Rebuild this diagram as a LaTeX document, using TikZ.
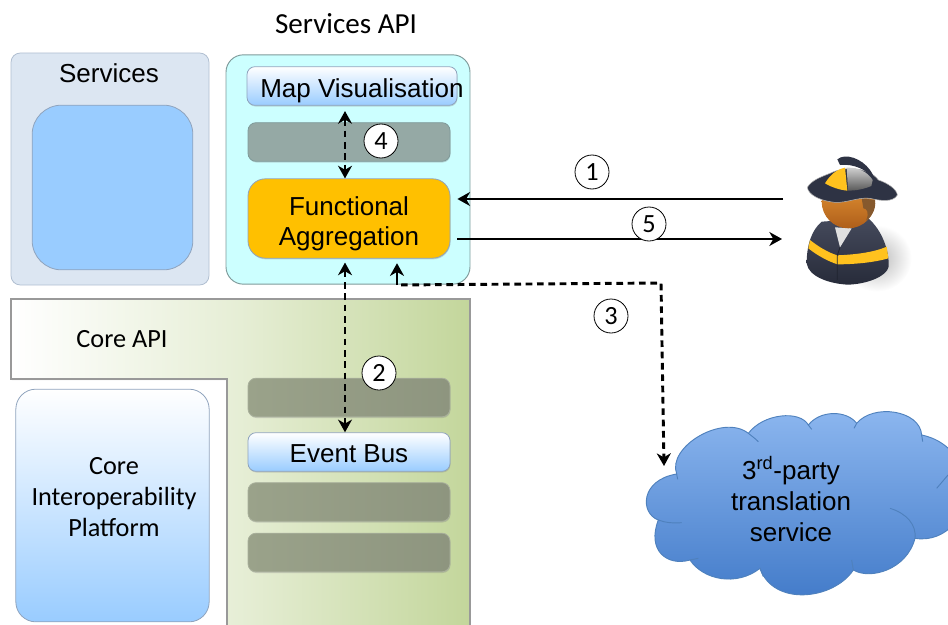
\documentclass[tikz,border=0pt]{standalone}
\usepackage{fontspec}
\setmainfont{Liberation Sans}
\newfontfamily\calibrilike{Carlito}
\usetikzlibrary{arrows.meta,shadows}
\definecolor{panelblue}{HTML}{DCE6F2}
\definecolor{panelcyan}{HTML}{CCFFFF}
\definecolor{skyblue}{HTML}{99CCFF}
\definecolor{edgeblue}{HTML}{8FA3BD}
\definecolor{edgegrey}{HTML}{7F9A9A}
\definecolor{amber}{HTML}{FFC000}
\definecolor{coregreen}{HTML}{C3D69B}
\definecolor{slategrey}{HTML}{95A9A5}
\definecolor{olivegrey}{HTML}{9AA28A}
\definecolor{cloudtop}{HTML}{8EB8F0}
\definecolor{cloudbottom}{HTML}{4079C8}
\definecolor{cloudedge}{HTML}{4F81BD}
\definecolor{coat}{HTML}{2E3344}
\definecolor{coatlight}{HTML}{454A5C}
\definecolor{band}{HTML}{FFC21E}
\definecolor{skintop}{HTML}{EC9C38}
\definecolor{skinbottom}{HTML}{AE5E1A}
\tikzset{
  softshadow/.style={drop shadow={shadow xshift=.4pt,shadow yshift=-.9pt,opacity=.3}},
  big/.style={font=\fontsize{19.5}{23.3}\selectfont,align=center},
  soft/.style={big,font=\calibrilike\fontsize{19.7}{23.3}\selectfont},
  lane/.style={rounded corners=6pt,minimum width=151.5pt,minimum height=29pt,inner sep=0pt,draw=edgegrey,line width=.6pt,softshadow},
  slatelane/.style={lane,fill=slategrey},
  olivelane/.style={lane,draw=olivegrey!85!white,left color=olivegrey,right color=olivegrey!92!black},
  glasslane/.style={lane,big,draw=edgeblue,top color=white,bottom color=skyblue},
  numbered/.style={circle,draw=black,fill=white,line width=.6pt,minimum size=25.5pt,inner sep=0pt,soft},
  flow/.style={-{Stealth[inset=3pt,length=9.5pt,width=10.5pt]},line width=1.5pt,black},
  dashedflow/.style={flow,line width=1.3pt,dash pattern=on 5pt off 3.5pt},
  twoway/.style={dashedflow,{Stealth[inset=3pt,length=9.5pt,width=10.5pt]}-{Stealth[inset=3pt,length=9.5pt,width=10.5pt]}},
}
\begin{document}
\begin{tikzpicture}[x=.75pt,y=-.75pt]
  \useasboundingbox (0,0) rectangle (948,624);
  \clip (0,0) rectangle (948,624);

  % services side
  \node[draw=edgeblue!70!white,fill=panelblue,rounded corners=7pt,line width=.6pt,minimum width=148.5pt,minimum height=174pt,inner sep=0pt] (servicespanel) at (110,169) {};
  \node[big] (serviceslabel) at (109,73) {Services};
  \node[draw=edgeblue,fill=skyblue,rounded corners=22pt,line width=.6pt,minimum width=120.5pt,minimum height=123.5pt,inner sep=0pt] (servicesbox) at (112.5,187.5) {};

  % services api
  \node[soft,font=\calibrilike\fontsize{21.8}{26}\selectfont] (apilabel) at (346,24) {Services API};
  \node[draw=edgegrey,fill=panelcyan,rounded corners=13pt,line width=.7pt,minimum width=183pt,minimum height=172pt,inner sep=0pt] (apipanel) at (348,169.5) {};
  \node[glasslane,minimum width=157.5pt] (mapbox) at (352,86) {};
  \node[big,anchor=west,inner sep=0pt] (maplabel) at (260,91) {Map Visualisation};
  \node[slatelane] (apilane) at (349,142) {};
  \node[lane,draw=edgeblue,fill=amber,rounded corners=13pt,minimum height=59.5pt] (aggregation) at (349,218.5) {};
  \node[big,font=\fontsize{19.5}{22.5}\selectfont] (aggregationlabel) at (349,224) {Functional\\Aggregation};

  % core api
  \path[draw=black!40,line width=.9pt,left color=white,right color=coregreen,middle color=coregreen!42!white,softshadow]
    (11,299) -- (470,299) -- (470,630) -- (227,630) -- (227,379) -- (11,379) -- cycle;
  \node[soft] (corelabel) at (122,339) {Core API};
  \node[draw=edgeblue,top color=white,bottom color=skyblue,rounded corners=15pt,line width=.6pt,minimum width=145pt,minimum height=174.5pt,inner sep=0pt] (platform) at (112.5,505.5) {};
  \node[soft] (platformlabel) at (114,497.5) {Core\\Interoperability\\Platform};
  \node[olivelane] (corelanea) at (349,397.5) {};
  \node[glasslane] (eventbus) at (349,452) {};
  \node[big] (eventlabel) at (349,454) {Event Bus};
  \node[olivelane] (corelaneb) at (349,502) {};
  \node[olivelane] (corelanec) at (349,552.5) {};

  % third party cloud
  \begin{scope}[shift={(630,400)},x=.25pt,y=-.25pt]
    \path[draw=cloudedge,line width=.7pt,top color=cloudtop,bottom color=cloudbottom]
      (140,222) .. controls (110,140) and (280,40) .. (355,100)
      .. controls (400,40) and (510,30) .. (535,75)
      .. controls (570,30) and (650,30) .. (680,70)
      .. controls (730,10) and (870,30) .. (875,105)
      .. controls (950,120) and (1000,180) .. (1010,250)
      .. controls (1020,340) and (950,430) .. (855,415)
      .. controls (830,510) and (720,540) .. (670,510)
      .. controls (610,600) and (430,620) .. (390,505)
      .. controls (320,560) and (220,540) .. (180,480)
      .. controls (110,500) and (50,450) .. (85,360)
      .. controls (30,340) and (30,240) .. (140,222) -- cycle;
    \path[draw=cloudedge,line width=.7pt]
      (140,222) -- (143,238)
      (85,360) .. controls (105,368) and (130,370) .. (155,368)
      (355,100) .. controls (365,108) and (375,115) .. (385,125)
      (535,75) -- (545,88)
      (680,70) -- (672,85)
      (875,105) -- (878,125)
      (954,225) -- (920,265)
      (780,325) .. controls (830,340) and (860,375) .. (855,415)
      (670,510) -- (665,480)
      (390,505) -- (400,530)
      (180,480) -- (205,475);
  \end{scope}
  \node[big] (translation) at (791,499) {3\textsuperscript{rd}-party\\translation\\service};

  % firefighter
  \begin{scope}[shift={(780,130)},x=.25pt,y=-.25pt]
    \path[inner color=black!28,outer color=white] (290,385) ellipse [x radius=105,y radius=100];
    \path[top color=coatlight,bottom color=coat!85!black]
      (125,275) .. controls (95,300) and (80,345) .. (80,400)
      .. controls (85,440) and (150,462) .. (205,464)
      .. controls (260,462) and (320,440) .. (326,410)
      .. controls (328,360) and (305,300) .. (265,265) -- cycle;
    \path[fill=black!12] (165,292) -- (215,295) -- (180,352) -- cycle;
    \path[fill=band]
      (90,330) .. controls (115,350) and (145,368) .. (172,376)
      .. controls (220,374) and (280,368) .. (320,350)
      -- (325,385) .. controls (280,398) and (220,403) .. (172,403)
      .. controls (140,392) and (110,375) .. (85,355) -- cycle;
    \path[draw=coat!70!black,line width=.6pt] (180,352) -- (172,376) -- (172,450);
    \path[top color=skintop,bottom color=skinbottom] (205,215) circle [radius=80];
    \path[fill=brown!70!black] (245,205) -- (285,210) .. controls (290,240) and (270,265) .. (258,272) .. controls (268,250) and (262,235) .. (250,235) -- cycle;
    \path[fill=coat,draw=black!30,line width=.4pt]
      (82,172) .. controls (95,150) and (125,140) .. (150,130)
      .. controls (200,105) and (270,115) .. (295,150)
      .. controls (325,160) and (350,178) .. (352,195)
      .. controls (340,218) and (300,212) .. (270,205)
      .. controls (230,200) and (190,225) .. (150,215)
      .. controls (120,210) and (85,195) .. (82,172) -- cycle;
    \path[fill=coat]
      (172,88) .. controls (195,68) and (245,85) .. (270,120)
      .. controls (280,135) and (285,145) .. (282,150)
      .. controls (265,120) and (220,100) .. (180,105) -- cycle;
    \path[fill=band] (135,160) .. controls (150,135) and (170,118) .. (195,113) -- (202,182) .. controls (180,180) and (155,172) .. (135,160) -- cycle;
    \path[top color=black!18,bottom color=black!65] (200,113) .. controls (235,112) and (262,125) .. (278,150) -- (274,168) .. controls (250,178) and (225,182) .. (204,182) -- cycle;
  \end{scope}
  \coordinate (firemanin) at (783,199);
  \coordinate (firemanout) at (782,239);
  \coordinate (busline) at (345,0);
  \coordinate (translationline) at (397,0);
  \coordinate (corner) at (397,285);
  \coordinate (bend) at (661,283);
  \coordinate (cloudend) at (664,466);

  % connectors
  \draw[flow,shorten >=5.25pt] (firemanin) -- (aggregation.east |- firemanin);
  \draw[flow,shorten <=5.25pt] (aggregation.east |- firemanout) -- (firemanout);
  \draw[twoway,shorten <=4pt] (busline |- mapbox.south) -- (busline |- aggregation.north);
  \draw[twoway,shorten <=3pt] (busline |- aggregation.south) -- (busline |- eventbus.north);
  \draw[dashedflow,line width=2.2pt,shorten <=3pt] (corner) -- (bend) -- (cloudend);
  \draw[flow,line width=2pt,shorten >=3.5pt] (corner) -- (translationline |- aggregation.south);

  % numbers
  \node[numbered] (stepone) at (592,172) {1};
  \node[numbered] (steptwo) at (379,373) {2};
  \node[numbered] (stepthree) at (611,316) {3};
  \node[numbered] (stepfour) at (381,141) {4};
  \node[numbered] (stepfive) at (649,224) {5};
\end{tikzpicture}
\end{document}
